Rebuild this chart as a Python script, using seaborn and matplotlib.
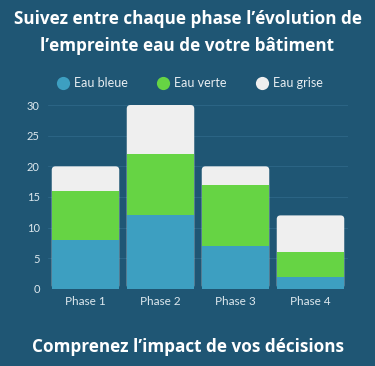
import numpy as np
import pandas as pd
import seaborn as sns
import matplotlib.pyplot as plt
from matplotlib.lines import Line2D
from matplotlib.patches import FancyBboxPatch

# données
phases = ['Phase 1', 'Phase 2', 'Phase 3', 'Phase 4']
eau_bleue = [8, 12, 7, 2]
eau_verte = [8, 10, 10, 4]
eau_grise = [4, 8, 3, 6]

bg = '#1f5674'
c_bleue = '#3d9fc1'
c_verte = '#66d444'
c_grise = '#efefef'

sns.set_theme(style='dark')
plt.rcParams['font.family'] = ['Lato', 'DejaVu Sans']

df = pd.DataFrame({'phase': phases, 'bleue': eau_bleue, 'verte': eau_verte, 'grise': eau_grise})
df['top_verte'] = df['bleue'] + df['verte']
df['top_grise'] = df['top_verte'] + df['grise']

fig = plt.figure(figsize=(3.75, 3.66), dpi=100, facecolor=bg)
ax = fig.add_axes([0.128, 0.2104, 0.8, 0.5027])
ax.set_facecolor(bg)

# empilement : on dessine le total puis les couches du dessous
sns.barplot(data=df, x='phase', y='top_grise', color=c_grise, width=0.9, saturation=1, ax=ax, zorder=3)
sns.barplot(data=df, x='phase', y='top_verte', color=c_verte, width=0.9, saturation=1, ax=ax, zorder=3)
sns.barplot(data=df, x='phase', y='bleue', color=c_bleue, width=0.9, saturation=1, ax=ax, zorder=3)
for p in ax.patches:
    p.set_linewidth(0)

# coins arrondis en haut des barres (on remplace les barres grises)
tops = list(ax.patches[:len(phases)])
for p in tops:
    x, y = p.get_xy()
    w, h = p.get_width(), p.get_height()
    fb = FancyBboxPatch((x, y), w, h, boxstyle='round,pad=0,rounding_size=0.05',
                        mutation_aspect=12.0, facecolor=c_grise, linewidth=0, zorder=2.9)
    p.remove()
    ax.add_patch(fb)

ax.set_ylim(0, 30)
ax.set_xlim(-0.5, 3.5)
ax.set_yticks(range(0, 31, 5))
ax.yaxis.grid(True, color='#2b6484', linewidth=0.8, zorder=0)
ax.xaxis.grid(False)
for s in ax.spines.values():
    s.set_visible(False)
ax.set_xlabel('')
ax.set_ylabel('')
ax.tick_params(axis='both', length=0, colors='#dde8ee', labelsize=8)
ax.tick_params(axis='x', pad=5, labelsize=8.5)
ax.tick_params(axis='y', pad=6)

titre = dict(ha='center', va='center', color='white', fontsize=12.3, fontweight='bold',
             family=['Open Sans', 'DejaVu Sans'])
fig.text(0.5, 1 - 19 / 366, "Suivez entre chaque phase l’évolution de", **titre)
fig.text(0.5, 1 - 46 / 366, "l’empreinte eau de votre bâtiment", **titre)
fig.text(0.5, 1 - 347 / 366, "Comprenez l’impact de vos décisions", **titre)

handles = [Line2D([], [], marker='o', linestyle='', markersize=9.5, markerfacecolor=c, markeredgewidth=0)
           for c in (c_bleue, c_verte, c_grise)]
fig.legend(handles, ['Eau bleue', 'Eau verte', 'Eau grise'], loc='center', bbox_to_anchor=(0.505, 1 - 83 / 366),
           ncol=3, frameon=False, fontsize=9, labelcolor='#e8eef2', handletextpad=0.3,
           columnspacing=2.2, handlelength=1.2)

fig.savefig('out.png', dpi=100, facecolor=bg)
